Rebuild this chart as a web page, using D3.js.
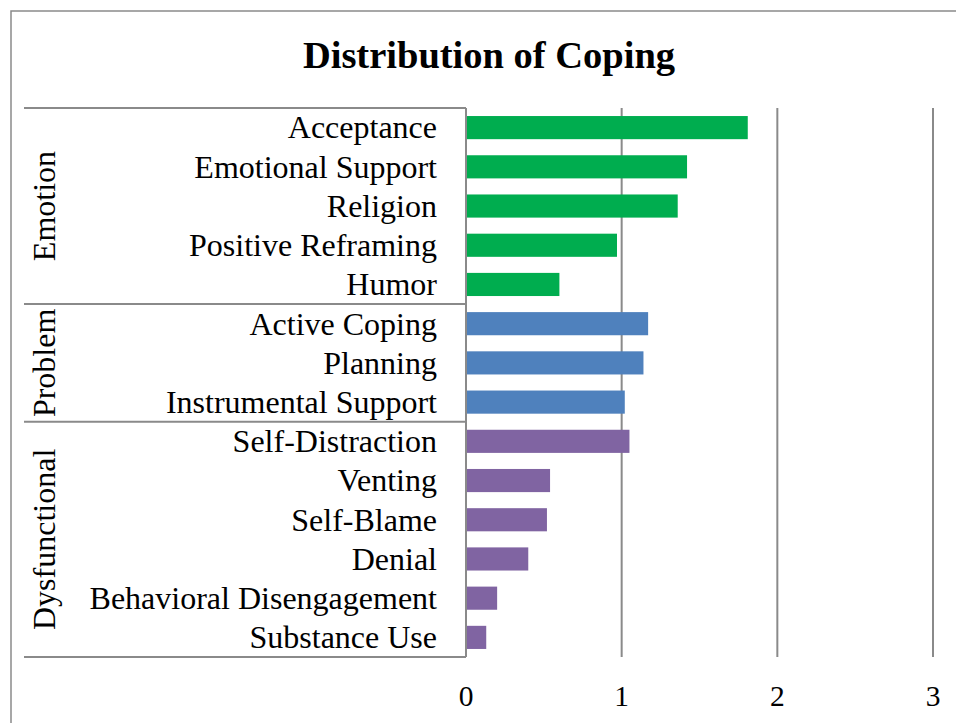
<!DOCTYPE html>
<html>
<head>
<meta charset="utf-8">
<script src="https://cdn.jsdelivr.net/npm/d3@7"></script>
<style>
  body { margin: 0; background: #fff; }
  svg text { font-family: "Liberation Serif", "Times New Roman", serif; fill: #000; }
</style>
</head>
<body>
<div id="chart"></div>
<script>
// data
const groups = ["Emotion", "Problem", "Dysfunctional"];
const categories = [
  "Acceptance", "Emotional Support", "Religion", "Positive Reframing", "Humor",
  "Active Coping", "Planning", "Instrumental Support",
  "Self-Distraction", "Venting", "Self-Blame", "Denial", "Behavioral Disengagement", "Substance Use"
];
const categoryGroup = [0, 0, 0, 0, 0, 1, 1, 1, 2, 2, 2, 2, 2, 2];
const values = [1.81, 1.42, 1.36, 0.97, 0.60, 1.17, 1.14, 1.02, 1.05, 0.54, 0.52, 0.40, 0.20, 0.13];
const xTicks = [0, 1, 2, 3];
const groupColors = ["#00ad4f", "#4f81bd", "#8064a2"];

let width = 956, height = 723;
let plotLeft = 466, plotRight = 933, plotTop = 108, plotBottom = 657;

let svg = d3.select("#chart").append("svg")
  .attr("width", width)
  .attr("height", height);

// chart frame (top + left only visible)
svg.append("path")
  .attr("d", `M11,${height} L11,11 L${width},11`)
  .attr("fill", "none")
  .attr("stroke", "#8a8a8a")
  .attr("stroke-width", 1.5);

svg.append("text")
  .attr("x", 489)
  .attr("y", 68)
  .attr("text-anchor", "middle")
  .attr("font-size", 38.5)
  .attr("font-weight", "bold")
  .text("Distribution of Coping");

let x = d3.scaleLinear().domain([0, 3]).range([plotLeft, plotRight]);
let y = d3.scaleBand().domain(categories).range([plotTop, plotBottom]).paddingInner(0.41).paddingOuter(0.205);

// gridlines
svg.append("g").selectAll("line")
  .data(xTicks.slice(1))
  .enter().append("line")
  .attr("x1", d => x(d)).attr("x2", d => x(d))
  .attr("y1", plotTop).attr("y2", plotBottom)
  .attr("stroke", "#8a8a8a")
  .attr("stroke-width", 2);

// bars
svg.append("g").selectAll("rect")
  .data(values)
  .enter().append("rect")
  .attr("x", x(0))
  .attr("y", (d, i) => y(categories[i]))
  .attr("width", d => x(d) - x(0))
  .attr("height", y.bandwidth())
  .attr("fill", (d, i) => groupColors[categoryGroup[i]]);

// category labels
svg.append("g").selectAll("text")
  .data(categories)
  .enter().append("text")
  .attr("x", 437)
  .attr("y", d => y(d) + y.bandwidth() / 2)
  .attr("dy", "0.34em")
  .attr("text-anchor", "end")
  .attr("font-size", 32)
  .text(d => d);

// group boxes
let step = (plotBottom - plotTop) / categories.length;
let groupSpans = groups.map((g, gi) => {
  let idx = categoryGroup.map((c, i) => c === gi ? i : -1).filter(i => i >= 0);
  return { name: g, y0: plotTop + idx[0] * step, y1: plotTop + (idx[idx.length - 1] + 1) * step };
});

let bounds = [plotTop].concat(groupSpans.map(s => s.y1));
svg.append("g").selectAll("line")
  .data(bounds)
  .enter().append("line")
  .attr("x1", 24).attr("x2", plotLeft)
  .attr("y1", d => d).attr("y2", d => d)
  .attr("stroke", "#8a8a8a")
  .attr("stroke-width", 2);

// axis line
svg.append("line")
  .attr("x1", plotLeft).attr("x2", plotLeft)
  .attr("y1", plotTop).attr("y2", plotBottom)
  .attr("stroke", "#8a8a8a")
  .attr("stroke-width", 2);

svg.append("g").selectAll("text")
  .data(groupSpans)
  .enter().append("text")
  .attr("transform", d => `translate(55,${(d.y0 + d.y1) / 2}) rotate(-90)`)
  .attr("text-anchor", "middle")
  .attr("font-size", 32)
  .text(d => d.name);

// x tick labels
svg.append("g").selectAll("text")
  .data(xTicks)
  .enter().append("text")
  .attr("x", d => x(d))
  .attr("y", 706)
  .attr("text-anchor", "middle")
  .attr("font-size", 29.5)
  .text(d => d);
</script>
</body>
</html>
